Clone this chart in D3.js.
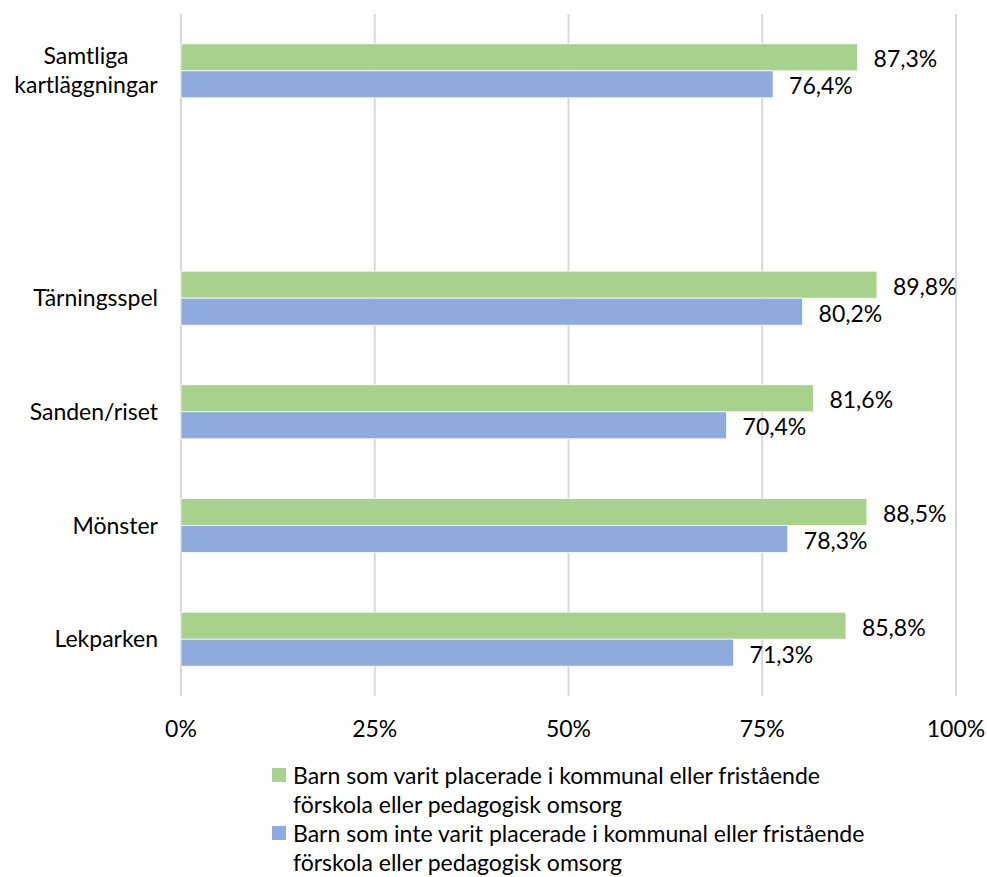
<!DOCTYPE html>
<html><head><meta charset="utf-8">
<script src="https://cdn.jsdelivr.net/npm/d3@7"></script>
<style>body{margin:0;background:#fff;} svg{display:block;font-family:"Lato","Open Sans",sans-serif;}</style>
</head><body>
<svg id="chart" width="987" height="877"></svg>
<script>
const categories = ["Samtliga kartläggningar", "", "Tärningsspel", "Sanden/riset", "Mönster", "Lekparken"];
const seriesNames = [
  "Barn som varit placerade i kommunal eller fristående förskola eller pedagogisk omsorg",
  "Barn som inte varit placerade i kommunal eller fristående förskola eller pedagogisk omsorg"
];
const placerade = [87.3, null, 89.8, 81.6, 88.5, 85.8];
const intePlacerade = [76.4, null, 80.2, 70.4, 78.3, 71.3];
const tickValues = [0, 25, 50, 75, 100];
const legendLines = [
  ["Barn som varit placerade i kommunal eller fristående", "förskola eller pedagogisk omsorg"],
  ["Barn som inte varit placerade i kommunal eller fristående", "förskola eller pedagogisk omsorg"]
];
const colors = ["#A9D18E", "#8FAADC"];

const svg = d3.select("#chart");
const fs = 23;
const x = d3.scaleLinear().domain([0, 100]).range([181, 956]);
const y = d3.scaleBand().domain(d3.range(categories.length)).range([14, 696]).paddingInner(0.525).paddingOuter(0.2625);
const yi = d3.scaleBand().domain([0, 1]).range([0, y.bandwidth()]);

// gridlines
svg.append("g").selectAll("line").data(tickValues).join("line")
  .attr("x1", d => x(d)).attr("x2", d => x(d))
  .attr("y1", 14).attr("y2", 696)
  .attr("stroke", "#D9D9D9").attr("stroke-width", 2);

// x tick labels
svg.append("g").selectAll("text").data(tickValues).join("text")
  .attr("x", d => x(d)).attr("y", 729)
  .attr("dy", "0.35em")
  .attr("text-anchor", "middle").attr("font-size", fs).attr("fill", "#000")
  .text(d => d + "%");

const series = [placerade, intePlacerade];
series.forEach((vals, si) => {
  const g = svg.append("g");
  const data = vals.map((v, i) => ({v, i})).filter(d => d.v !== null);
  g.selectAll("rect").data(data).join("rect")
    .attr("x", x(0)).attr("y", d => y(d.i) + yi(si))
    .attr("width", d => x(d.v) - x(0)).attr("height", yi.bandwidth())
    .attr("fill", colors[si]).attr("stroke", "#fff").attr("stroke-width", 0.75);
  g.selectAll("text").data(data).join("text")
    .attr("x", d => x(d.v) + 16).attr("y", d => y(d.i) + yi(si) + yi.bandwidth() / 2 + 2)
    .attr("dy", "0.35em").attr("font-size", fs).attr("fill", "#000")
    .text(d => d.v.toFixed(1).replace(".", ",") + "%");
});

// category labels
categories.forEach((c, i) => {
  if (!c) return;
  const cy = y(i) + y.bandwidth() / 2;
  let lines = [c];
  if (c === "Samtliga kartläggningar") lines = ["Samtliga", "kartläggningar"];
  const t = svg.append("text").attr("font-size", fs).attr("fill", "#000").attr("text-anchor", "middle");
  const lh = 29;
  lines.forEach((l, k) => {
    t.append("tspan").attr("x", lines.length > 1 ? 86 : 0).attr("y", cy + (k - (lines.length - 1) / 2) * lh).attr("dy", "0.35em").text(l);
  });
  if (lines.length === 1) t.attr("text-anchor", "end").selectAll("tspan").attr("x", 158);
});

// legend
legendLines.forEach((lines, si) => {
  const top = 768 + si * 58;
  svg.append("rect").attr("x", 272).attr("y", top).attr("width", 14).attr("height", 14).attr("fill", colors[si]);
  const t = svg.append("text").attr("font-size", fs).attr("fill", "#000");
  lines.forEach((l, k) => t.append("tspan").attr("x", 293).attr("y", top + 8 + k * 29).attr("dy", "0.35em").text(l));
});
</script>
</body></html>
